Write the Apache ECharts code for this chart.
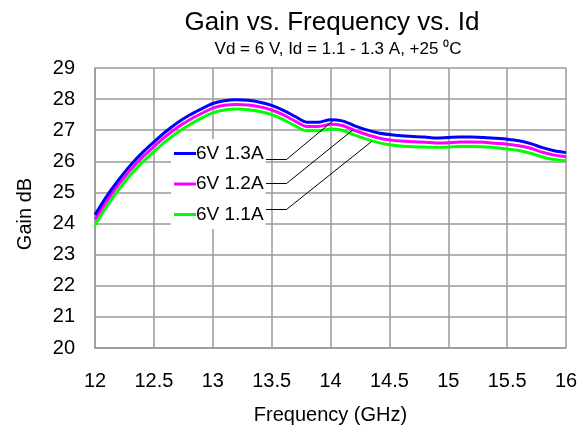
<!DOCTYPE html>
<html>
<head>
<meta charset="utf-8">
<script src="https://cdn.jsdelivr.net/npm/echarts@6/dist/echarts.min.js"></script>
<style>html,body{margin:0;padding:0;background:#fff}#c{width:587px;height:432px}</style>
</head>
<body>
<div id="c"></div>
<script>
var freq = [12.0,12.1,12.2,12.3,12.4,12.5,12.6,12.7,12.8,12.9,13.0,13.1,13.2,13.3,13.4,13.5,13.6,13.7,13.8,13.9,14.0,14.1,14.2,14.3,14.4,14.5,14.6,14.7,14.8,14.9,15.0,15.1,15.2,15.3,15.4,15.5,15.6,15.7,15.8,15.9,16.0];
var gain13 = [24.28,24.88,25.40,25.87,26.27,26.62,26.95,27.24,27.48,27.68,27.86,27.95,27.98,27.96,27.90,27.80,27.64,27.44,27.26,27.26,27.34,27.30,27.15,27.02,26.92,26.86,26.82,26.80,26.78,26.75,26.77,26.78,26.78,26.77,26.74,26.71,26.66,26.57,26.44,26.34,26.28];
var gain12 = [24.13,24.72,25.25,25.72,26.12,26.47,26.80,27.09,27.33,27.53,27.71,27.80,27.83,27.81,27.75,27.65,27.49,27.29,27.12,27.12,27.19,27.15,27.00,26.87,26.76,26.69,26.65,26.63,26.61,26.59,26.60,26.62,26.62,26.61,26.58,26.55,26.50,26.42,26.29,26.20,26.15];
var gain11 = [23.95,24.55,25.08,25.56,25.96,26.31,26.64,26.93,27.17,27.38,27.56,27.65,27.68,27.66,27.60,27.50,27.34,27.14,26.98,26.98,27.04,27.00,26.85,26.72,26.61,26.53,26.49,26.47,26.46,26.45,26.46,26.48,26.48,26.47,26.44,26.40,26.35,26.26,26.14,26.06,26.02];
var seriesNames = ['6V 1.3A','6V 1.2A','6V 1.1A'];
var seriesColors = ['#0000FF','#FF00FF','#00FF00'];
// leader line anchors in data space: [labelStartX, bendX, labelY, targetX, targetY]
var leaders = [
  [13.452, 13.628, 26.064, 14.02, 27.30],
  [13.452, 13.628, 25.293, 14.19, 27.01],
  [13.452, 13.628, 24.457, 14.35, 26.64]
];
var titleText = 'Gain vs. Frequency vs. Id';
var subText = 'Vd = 6 V, Id = 1.1 - 1.3 A, +25 \u2070C';

var FONT = 'Liberation Sans, Arial, Helvetica, sans-serif';
var gains = [gain13, gain12, gain11];

function pairs(ys){ return freq.map(function(f,i){ return [f, ys[i]]; }); }

var series = gains.map(function(g, i){
  var L = leaders[i];
  return {
    name: seriesNames[i],
    type: 'line',
    data: pairs(g),
    smooth: 0.3,
    showSymbol: false,
    symbol: 'none',
    lineStyle: { color: seriesColors[i], width: 3 },
    itemStyle: { color: seriesColors[i] },
    z: 3 - i + 2,
    markLine: {
      silent: true,
      symbol: ['none','none'],
      label: { show: false },
      lineStyle: { color: '#000', width: 1, type: 'solid' },
      data: [
        [{ coord: [L[0], L[2]] }, { coord: [L[1], L[2]] }],
        [{ coord: [L[1], L[2]] }, { coord: [L[3], L[4]] }]
      ]
    }
  };
});

var chart = echarts.init(document.getElementById('c'), null, { renderer: 'canvas' });
chart.setOption({
  backgroundColor: '#fff',
  animation: false,
  title: [
    { text: titleText, left: 327, top: 5, textAlign: 'center',
      textStyle: { fontFamily: FONT, fontSize: 26, fontWeight: 'normal', color: '#000' } },
    { text: subText, left: 333, top: 36, textAlign: 'center',
      textStyle: { fontFamily: FONT, fontSize: 17, fontWeight: 'normal', color: '#000' } }
  ],
  grid: { left: 95, right: 21, top: 68, bottom: 84, containLabel: false },
  legend: {
    orient: 'vertical',
    left: 171, top: 139,
    padding: [5, 2, 5, 3],
    icon: 'rect',
    itemWidth: 22, itemHeight: 3, itemGap: 11.5,
    backgroundColor: '#fff',
    data: seriesNames,
    textStyle: { fontFamily: FONT, fontSize: 19, lineHeight: 16, color: '#000', padding: [0, 0, 0, -5] }
  },
  xAxis: {
    type: 'value', min: 12, max: 16, interval: 0.5,
    name: 'Frequency (GHz)', nameLocation: 'middle', nameGap: 57,
    nameTextStyle: { fontFamily: FONT, fontSize: 20, color: '#000' },
    axisLine: { show: true, lineStyle: { color: '#9a9a9a', width: 1.5 } },
    axisTick: { show: false },
    axisLabel: { fontFamily: FONT, fontSize: 20, color: '#000', margin: 23 },
    splitLine: { show: true, lineStyle: { color: '#9a9a9a', width: 1.5 } }
  },
  yAxis: {
    type: 'value', min: 20, max: 29, interval: 1,
    name: 'Gain dB', nameLocation: 'middle', nameGap: 60, nameRotate: 90,
    nameTextStyle: { fontFamily: FONT, fontSize: 20, color: '#000', padding: [0, 12, 0, 0] },
    axisLine: { show: true, lineStyle: { color: '#9a9a9a', width: 1.5 } },
    axisTick: { show: false },
    axisLabel: { fontFamily: FONT, fontSize: 20, color: '#000', margin: 20 },
    splitLine: { show: true, lineStyle: { color: '#9a9a9a', width: 1.5 } }
  },
  series: series
});
</script>
</body>
</html>
